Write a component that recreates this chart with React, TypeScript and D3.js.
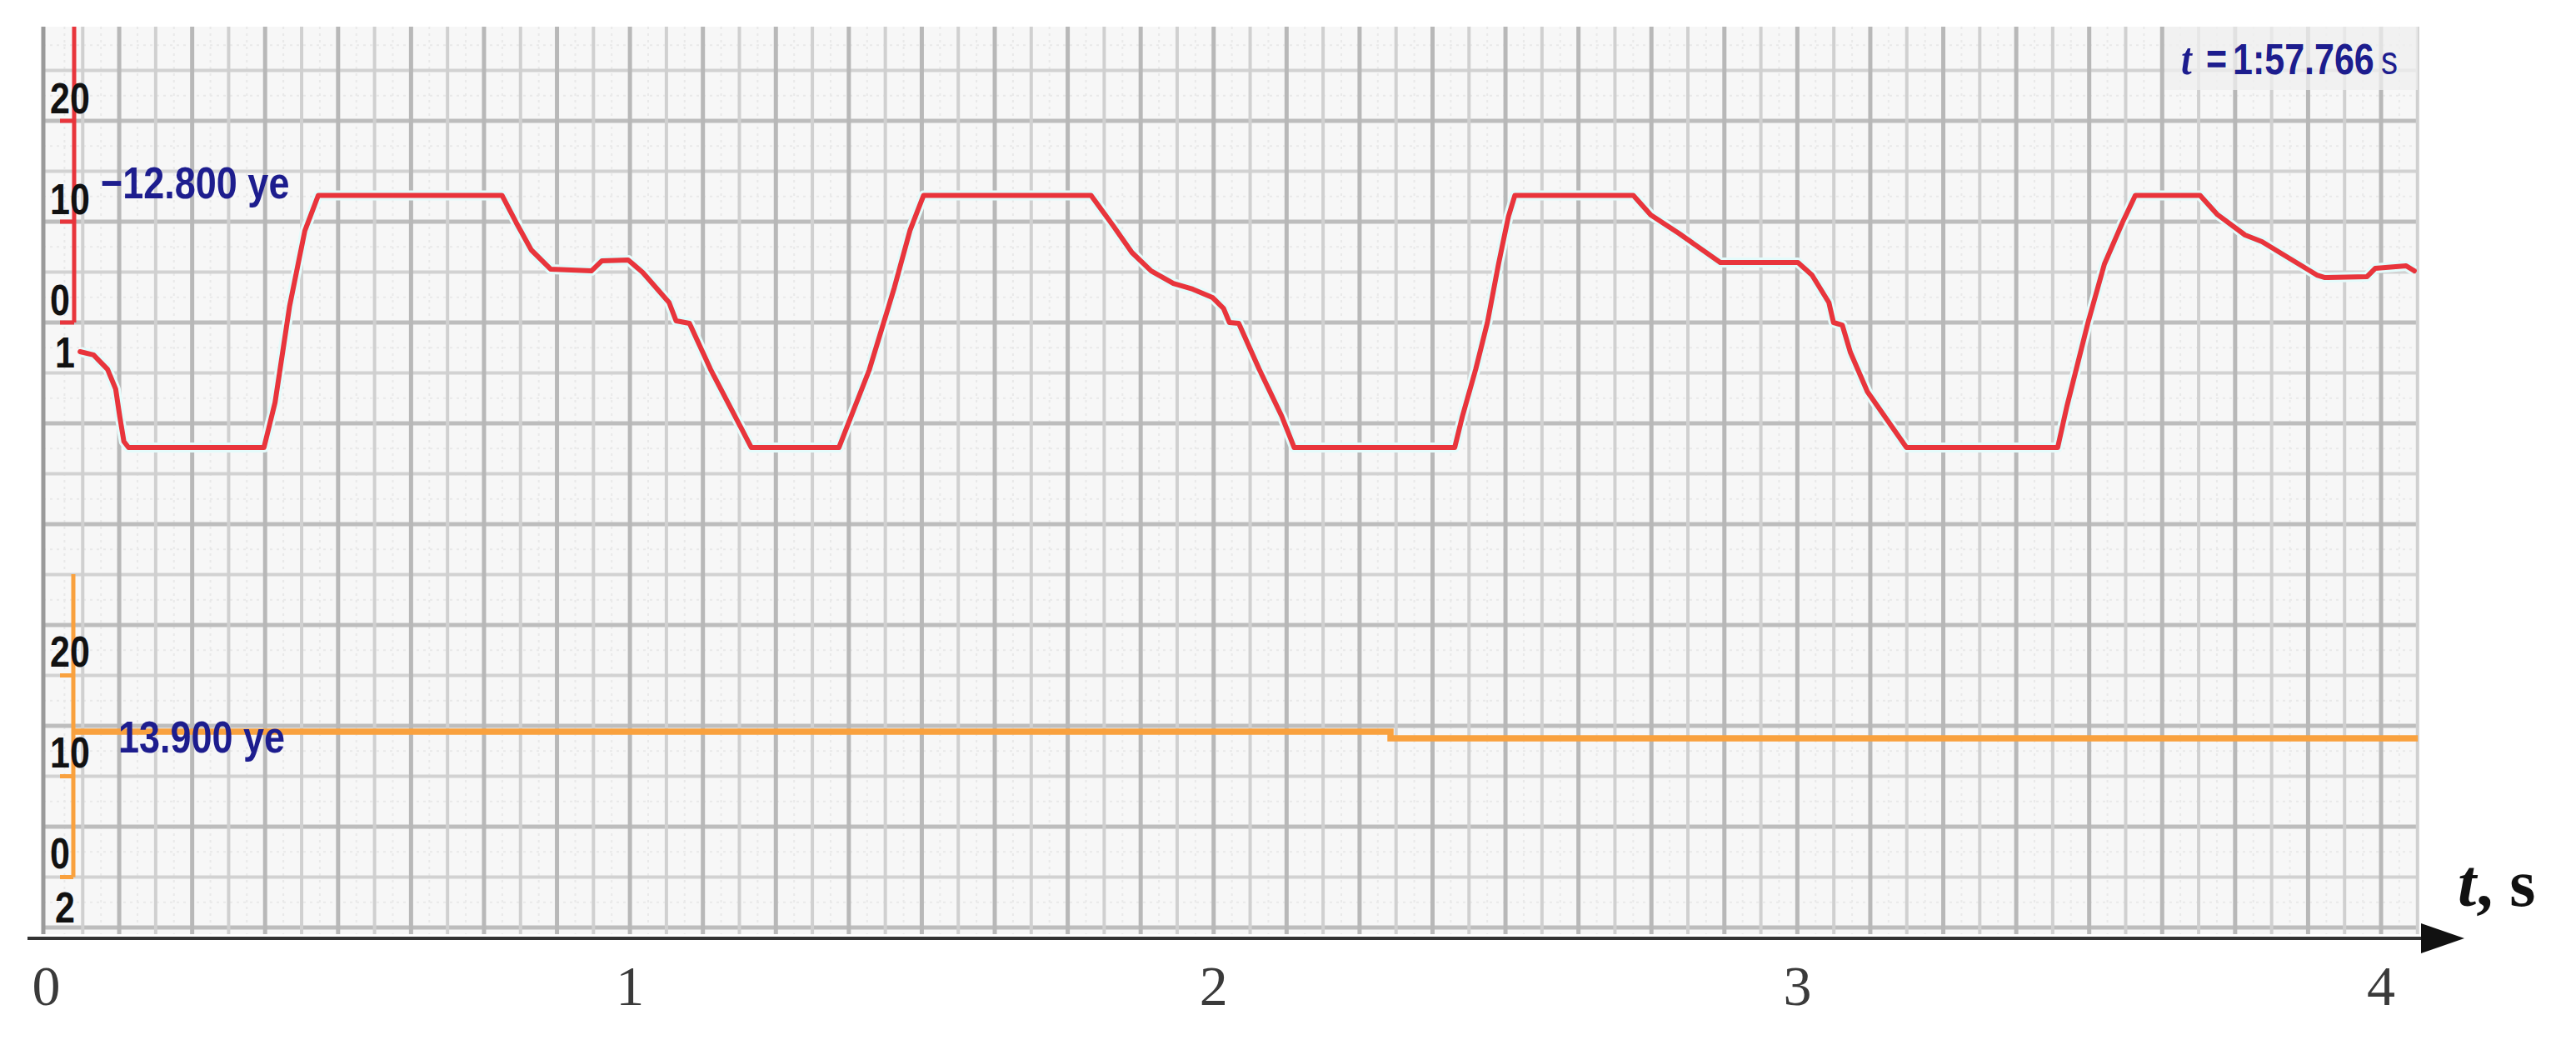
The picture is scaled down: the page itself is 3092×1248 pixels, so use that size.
import React from 'react';
import * as d3 from 'd3';

// ---- data ----
const TIME_TICKS = [0, 1, 2, 3, 4];

const RED_T = [0.058, 0.081, 0.105, 0.119, 0.126, 0.133, 0.141,
  0.373, 0.392, 0.417, 0.443, 0.466,
  0.781, 0.805, 0.831, 0.864, 0.934, 0.952, 0.997, 1.022, 1.067, 1.079, 1.102, 1.138, 1.208,
  1.358, 1.410, 1.453, 1.480, 1.503,
  1.790, 1.827, 1.860, 1.893, 1.931, 1.964, 1.998, 2.017, 2.027, 2.043, 2.078, 2.117, 2.138,
  2.413, 2.426, 2.449, 2.469, 2.488, 2.505, 2.516,
  2.719, 2.749, 2.797, 2.868, 3.001, 3.025, 3.054, 3.062, 3.077, 3.091, 3.120, 3.187,
  3.446, 3.462, 3.498, 3.526, 3.557, 3.579,
  3.690, 3.719, 3.767, 3.796, 3.843, 3.890, 3.904, 3.976, 3.990, 4.043, 4.057];
const RED_V = [-2.89, -3.22, -4.63, -6.61, -9.34, -11.8, -12.4,
  -12.4, -7.93, 1.65, 9.09, 12.6,
  12.6, 9.92, 7.19, 5.29, 5.12, 6.12, 6.2, 4.96, 1.98, 0.17, -0.08, -4.63, -12.4,
  -12.4, -4.71, 3.47, 9.17, 12.6,
  12.6, 9.67, 6.94, 5.12, 3.88, 3.31, 2.48, 1.4, 0.0, -0.08, -4.63, -9.34, -12.4,
  -12.4, -9.34, -4.63, 0.0, 5.79, 10.5, 12.6,
  12.6, 10.66, 8.84, 5.95, 5.95, 4.71, 1.98, 0.0, -0.25, -2.98, -6.86, -12.4,
  -12.4, -8.26, 0.0, 5.79, 9.92, 12.6,
  12.6, 10.74, 8.68, 8.02, 6.36, 4.71, 4.46, 4.55, 5.37, 5.62, 5.12];

const ORANGE_T = [0.048, 2.303, 2.303, 4.063];
const ORANGE_V = [14.42, 14.42, 13.76, 13.76];

const Y_TICKS = [0, 10, 20];
const Y_TICK_LABELS = ['0', '10', '20'];
const RED_EXTRA_LABEL = '1';
const ORANGE_EXTRA_LABEL = '2';
const RED_READOUT = '\u221212.800 ye';
const ORANGE_READOUT = '13.900 ye';
const TIME_READOUT = '1:57.766';

const NAVY = '#1d1d8e';
const RED = '#e8353c';
const ORANGE = '#f9a13e';

export default function App() {
  const W = 3092, H = 1248;
  const x = d3.scaleLinear().domain([0, 4]).range([55.5, 2858]);
  const yRed = d3.scaleLinear().domain([0, 20]).range([387, 145]);
  const yOr = d3.scaleLinear().domain([0, 20]).range([1052.5, 810.5]);

  const gridLeft = 52, gridRight = 2902, gridTop = 32, gridBottom = 1121;
  const vLines = d3.range(1, 66).map(k => ({ px: x(k / 16), major: k % 2 === 0 }));
  const hLines = d3.range(-60, 30, 5)
    .map(v => ({ py: yRed(v), major: Math.abs(v % 10) === 0 }))
    .filter(d => d.py > gridTop + 5 && d.py < gridBottom);
  const vSub = d3.range(0, 65).map(k => x((k + 0.5) / 16));
  const hSub = d3.range(-60, 30, 5).map(v => yRed(v + 2.5)).filter(py => py > gridTop && py < gridBottom);

  const redData = RED_T.map((t, i) => [t, RED_V[i]] as [number, number]);
  const orData = ORANGE_T.map((t, i) => [t, ORANGE_V[i]] as [number, number]);
  const redLine = d3.line<[number, number]>().x(d => x(d[0])).y(d => yRed(d[1]));
  const orLine = d3.line<[number, number]>().x(d => x(d[0])).y(d => yOr(d[1]));

  const axisX = 89;
  const sans = '"Liberation Sans", Arial, sans-serif';
  const serif = '"Liberation Serif", "Times New Roman", serif';
  const lblStyle = { fontFamily: sans, fontWeight: 700, fontSize: 43 } as const;
  const rdStyle = { fontFamily: sans, fontWeight: 700, fontSize: 45 } as const;
  const sy = 1.2;

  return (
    <svg width={W} height={H} style={{ position: 'absolute', left: 0, top: 0, background: '#fff' }}>
      {/* grid */}
      <rect x={gridLeft} y={gridTop} width={gridRight - gridLeft} height={gridBottom - gridTop} fill="#f7f7f7" />
      {vSub.map((px, i) => (
        <line key={'vs' + i} x1={px} x2={px} y1={gridTop} y2={gridBottom} stroke="#e9e9e9" strokeWidth={2} strokeDasharray="3 5" />
      ))}
      {hSub.map((py, i) => (
        <line key={'hs' + i} x1={gridLeft} x2={gridRight} y1={py} y2={py} stroke="#e9e9e9" strokeWidth={2} strokeDasharray="3 5" />
      ))}
      {hLines.map((d, i) => (
        <line key={'h' + i} x1={gridLeft} x2={gridRight} y1={d.py} y2={d.py}
          stroke={d.major ? '#bdbdbd' : '#d2d2d2'} strokeWidth={d.major ? 5 : 4} />
      ))}
      {vLines.map((d, i) => (
        <line key={'v' + i} x1={d.px} x2={d.px} y1={gridTop} y2={gridBottom}
          stroke={d.major ? '#b8b8b8' : '#d0d0d0'} strokeWidth={d.major ? 5 : 4} />
      ))}
      <line x1={gridLeft} x2={gridLeft} y1={gridTop} y2={gridBottom} stroke="#9a9a9a" strokeWidth={5} />

      {/* timestamp box */}
      <rect x={2598} y={gridTop} width={gridRight - 2598} height={76} fill="#efefef" opacity={0.75} />

      {/* red axis */}
      <line x1={axisX} x2={axisX} y1={gridTop} y2={yRed(0)} stroke={RED} strokeWidth={5} />
      {Y_TICKS.map(v => (
        <line key={'rt' + v} x1={72} x2={axisX} y1={yRed(v)} y2={yRed(v)} stroke={RED} strokeWidth={5} />
      ))}
      {/* orange axis */}
      <line x1={axisX - 1} x2={axisX - 1} y1={689} y2={yOr(0)} stroke={ORANGE} strokeWidth={5} />
      {Y_TICKS.map(v => (
        <line key={'ot' + v} x1={72} x2={axisX - 1} y1={yOr(v)} y2={yOr(v)} stroke={ORANGE} strokeWidth={5} />
      ))}

      {/* series */}
      <path d={redLine(redData) || ''} fill="none" stroke="#e4fbfb" strokeWidth={12} strokeLinejoin="round" />
      <path d={redLine(redData) || ''} fill="none" stroke={RED} strokeWidth={6} strokeLinejoin="round" strokeLinecap="round" />
      <path d={orLine(orData) || ''} fill="none" stroke={ORANGE} strokeWidth={7.5} />

      {/* y tick labels */}
      {Y_TICKS.map((v, i) => (
        <text key={'rl' + v} transform={`translate(60,${yRed(v) - 9}) scale(1,${sy})`} {...lblStyle} fill="#111">{Y_TICK_LABELS[i]}</text>
      ))}
      <text transform={`translate(66,${yRed(-3) + 18}) scale(1,${sy})`} {...lblStyle} fill="#111">{RED_EXTRA_LABEL}</text>
      {Y_TICKS.map((v, i) => (
        <text key={'ol' + v} transform={`translate(60,${yOr(v) - 11}) scale(1,${sy})`} {...lblStyle} fill="#111">{Y_TICK_LABELS[i]}</text>
      ))}
      <text transform={`translate(66,${yOr(-3) + 18}) scale(1,${sy})`} {...lblStyle} fill="#111">{ORANGE_EXTRA_LABEL}</text>

      {/* readouts */}
      <text transform={`translate(121,238) scale(1,${sy})`} {...rdStyle} fill={NAVY}>{RED_READOUT}</text>
      <text transform={`translate(142,903) scale(1,${sy})`} {...rdStyle} fill={NAVY}>{ORANGE_READOUT}</text>

      {/* timestamp */}
      <text transform={`translate(2618,89) scale(1,${sy})`} fontFamily={serif} fontWeight={700} fontStyle="italic" fontSize={46} fill={NAVY}>t</text>
      <text transform={`translate(2648,89) scale(1,${sy})`} {...lblStyle} fill={NAVY}>=</text>
      <text transform={`translate(2680,89) scale(1,${sy})`} {...lblStyle} fill={NAVY}>{TIME_READOUT}</text>
      <text transform={`translate(2858,89) scale(1,${sy})`} fontFamily={sans} fontSize={40} fill={NAVY}>s</text>

      {/* time axis */}
      <line x1={33} x2={2912} y1={1126} y2={1126} stroke="#333" strokeWidth={4} />
      <path d="M2906,1108 L2958,1126 L2906,1144 Z" fill="#111" />
      {TIME_TICKS.map(t => (
        <text key={'xt' + t} x={x(t)} y={1206} textAnchor="middle" fontFamily={serif} fontSize={68} fill="#3a3a3a">{t}</text>
      ))}
      <text x={2950} y={1087} fontFamily={serif} fontWeight={700} fontSize={80} fill="#111">
        <tspan fontStyle="italic">t</tspan>, s
      </text>
    </svg>
  );
}
